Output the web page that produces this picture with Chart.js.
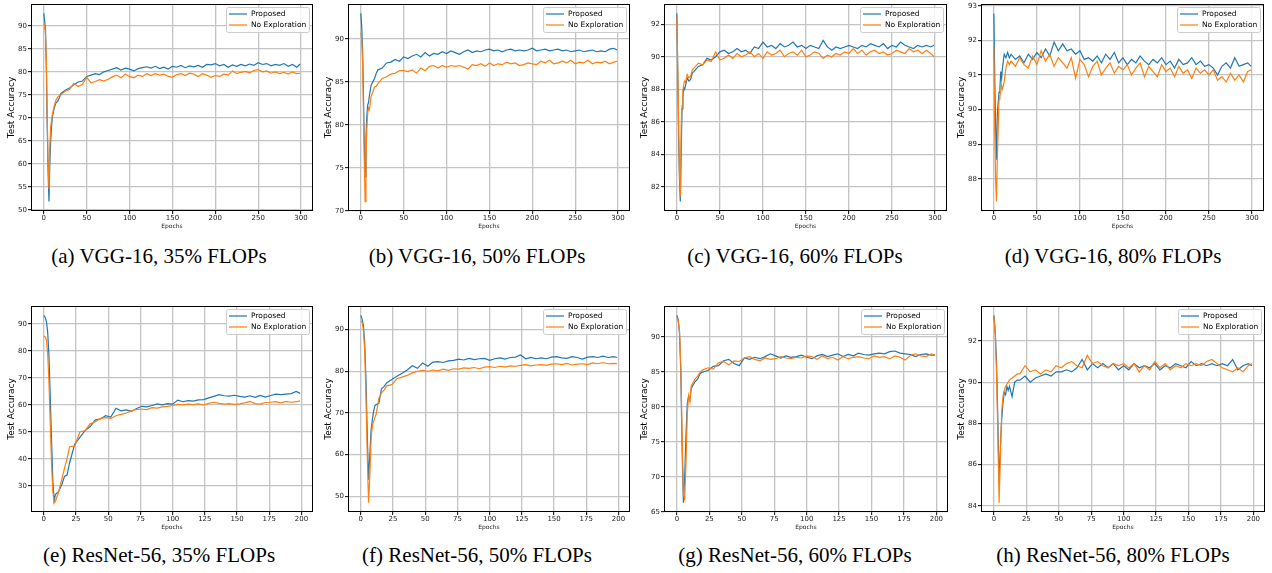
<!DOCTYPE html>
<html>
<head>
<meta charset="utf-8">
<script src="https://cdn.jsdelivr.net/npm/chart.js@4.4.0/dist/chart.umd.min.js"></script>
<style>
  body { margin: 0; background: #fff; width: 1272px; height: 573px; position: relative; overflow: hidden; }
  canvas { position: absolute; }
  .cap { position: absolute; width: 318px; text-align: center; font-family: "Liberation Serif", "Times New Roman", serif;
         font-size: 21px; line-height: 24px; color: #000; white-space: nowrap; }
</style>
</head>
<body>
<script>
// ---- data ----
const seriesNames = ['Proposed', 'No Exploration'];
const captions = [
  '(a) VGG-16, 35% FLOPs', '(b) VGG-16, 50% FLOPs', '(c) VGG-16, 60% FLOPs', '(d) VGG-16, 80% FLOPs',
  '(e) ResNet-56, 35% FLOPs', '(f) ResNet-56, 50% FLOPs', '(g) ResNet-56, 60% FLOPs', '(h) ResNet-56, 80% FLOPs'
];

const epochsTop = [0,1,2,3,4,5,6,7,8,9,10,12,14,16,18,20,25,30,35,40,45,50,55,60,65,70,75,80,85,90,95,100,105,110,115,120,
  125,130,135,140,145,150,155,160,165,170,175,180,185,190,195,200,205,210,215,220,225,230,235,240,245,250,255,260,265,270,
  275,280,285,290,295,299];
const epochsBottom = [0,1,2,3,4,5,6,7,8,9,10,11,12,14,16,18,20,24,28,32,36,40,44,48,52,56,60,64,68,72,76,80,84,88,92,96,
  100,104,108,112,116,120,124,128,132,136,140,144,148,152,156,160,164,168,172,176,180,184,188,192,196,199];

const xTicksTop = [0, 50, 100, 150, 200, 250, 300];
const xTicksBottom = [0, 25, 50, 75, 100, 125, 150, 175, 200];
const yTicksA = [50, 55, 60, 65, 70, 75, 80, 85, 90];
const yTicksB = [70, 75, 80, 85, 90];
const yTicksC = [82, 84, 86, 88, 90, 92];
const yTicksD = [88, 89, 90, 91, 92, 93];
const yTicksE = [30, 40, 50, 60, 70, 80, 90];
const yTicksF = [50, 60, 70, 80, 90];
const yTicksG = [65, 70, 75, 80, 85, 90];
const yTicksH = [84, 86, 88, 90, 92];

const vgg35Proposed = [92.7,91.0,89.0,80.0,68.0,58.0,51.8,60.0,65.0,68.0,70.2,72.0,73.2,73.6,74.3,
  75.3,76.0,76.5,77.2,77.8,78.0,79.0,79.3,79.6,79.4,80.0,80.3,80.6,80.9,80.4,80.8,80.6,80.2,80.7,80.9,81.1,80.8,81.2,80.7,
  81.0,80.6,81.2,81.0,81.4,80.9,81.3,81.1,81.4,81.0,81.6,81.5,81.8,81.3,81.6,81.0,81.5,81.2,81.6,81.3,81.7,81.4,82.0,81.6,
  81.8,81.3,81.6,81.4,81.8,81.2,81.6,81.0,81.7];
const vgg35NoExp = [90.5,90.0,88.0,82.0,70.0,60.0,54.6,64.0,68.0,69.5,70.8,72.5,73.8,74.5,74.8,
  75.0,75.8,76.2,77.5,76.8,77.3,78.8,77.6,77.9,78.3,78.0,78.4,78.9,79.3,78.7,79.5,79.0,78.7,79.3,79.0,79.6,79.2,79.6,79.3,
  79.5,79.0,78.8,79.4,79.6,79.2,79.7,79.5,79.0,79.6,79.3,78.8,79.2,79.0,79.5,79.3,80.2,79.6,79.9,80.1,79.8,80.3,80.5,80.0,
  80.2,79.7,80.0,79.6,79.9,79.5,80.0,79.6,79.7];

const vgg50Proposed = [92.95,91.5,89.0,84.0,78.0,74.0,78.5,81.0,82.3,82.6,83.4,84.6,85.0,85.4,86.0,
  86.4,86.6,87.2,87.3,87.6,87.4,87.9,87.7,88.0,88.2,87.9,88.4,88.0,88.3,88.2,88.5,88.3,88.6,88.4,88.2,88.5,88.7,88.4,88.6,
  88.5,88.7,88.8,88.6,88.7,88.5,88.7,88.8,88.6,88.7,88.6,88.7,88.9,88.6,88.7,88.8,88.6,88.7,88.8,88.6,88.7,88.5,88.6,88.7,
  88.5,88.6,88.7,88.5,88.6,88.5,88.8,88.9,88.7];
const vgg50NoExp = [90.7,90.0,87.5,82.0,76.0,71.1,76.0,79.5,81.3,82.0,81.8,83.3,83.8,84.4,84.5,
  84.8,85.4,85.6,85.9,86.0,86.3,86.3,86.2,86.4,86.0,86.6,86.3,86.8,86.9,86.6,86.9,86.7,86.9,86.8,86.9,86.7,86.5,87.0,86.9,
  87.1,86.8,87.2,86.9,87.1,87.0,87.3,87.1,87.2,86.9,87.0,87.2,87.1,87.0,87.4,87.2,87.5,87.1,87.2,87.4,87.2,87.5,87.1,87.3,
  87.2,87.5,87.1,87.3,87.2,87.4,87.1,87.3,87.4];

const vgg60Proposed = [92.66,89.0,85.0,82.5,81.1,84.0,86.8,87.5,88.1,88.0,88.2,88.7,88.5,88.6,89.0,
  89.1,89.4,89.5,89.9,89.8,90.0,90.3,90.4,90.2,90.3,90.5,90.3,90.4,90.2,90.6,90.5,90.9,90.6,90.7,90.5,90.8,90.6,90.7,90.9,
  90.6,90.7,90.5,90.7,90.6,90.5,91.0,90.6,90.4,90.6,90.5,90.6,90.7,90.6,90.5,90.7,90.6,90.8,90.7,90.6,90.8,90.5,90.7,90.6,
  90.9,90.7,90.6,90.5,90.7,90.6,90.7,90.6,90.7];
const vgg60NoExp = [92.4,89.5,86.0,83.0,81.4,85.7,87.0,87.9,88.3,88.5,88.4,88.9,88.7,88.8,89.2,
  89.3,89.6,89.5,89.8,89.7,90.3,89.8,89.9,90.1,89.9,90.2,90.0,90.1,90.3,90.0,90.2,89.9,90.3,90.1,90.2,90.4,90.0,90.2,90.3,
  90.1,90.4,90.0,90.1,90.3,90.2,89.9,90.1,90.0,90.2,90.1,90.3,90.2,90.5,90.2,90.4,90.1,90.3,90.4,90.2,90.3,90.1,90.2,90.4,
  90.3,90.2,90.5,90.3,90.4,90.2,90.4,90.2,90.0];

const vgg80Proposed = [92.78,91.0,89.5,88.55,89.85,90.2,90.5,90.6,91.1,90.9,91.2,91.6,91.5,91.65,91.5,
  91.6,91.45,91.55,91.35,91.6,91.45,91.65,91.5,91.75,91.55,91.95,91.7,91.9,91.7,91.75,91.6,91.7,91.45,91.5,91.4,91.55,
  91.35,91.6,91.45,91.65,91.35,91.5,91.3,91.45,91.35,91.55,91.4,91.3,91.45,91.35,91.5,91.3,91.4,91.2,91.45,91.3,91.35,
  91.5,91.3,91.4,91.25,91.3,91.2,91.0,91.25,91.35,91.2,91.5,91.25,91.3,91.35,91.25];
const vgg80NoExp = [91.85,89.5,88.0,87.34,88.6,89.4,90.3,90.4,90.5,90.7,90.6,90.8,91.2,91.4,91.3,
  91.4,91.25,91.5,91.3,91.2,91.55,91.3,91.7,91.4,91.6,91.25,91.5,91.35,91.2,91.5,90.9,91.45,91.3,90.95,91.25,91.4,91.0,
  91.2,91.35,91.05,91.25,91.15,91.3,91.0,91.2,91.35,90.95,91.25,91.1,90.95,91.3,91.1,91.2,90.95,91.25,91.05,91.15,90.9,
  91.2,91.05,91.15,91.0,91.15,90.85,90.95,90.8,91.05,90.85,91.0,90.8,91.1,91.15];

const res35Proposed = [93.2,92.5,91.0,87.0,78.0,63.0,47.0,32.0,24.5,26.8,27.3,27.6,28.5,30.5,33.5,34.0,
  38.5,45.5,48.0,50.5,52.0,54.5,54.8,56.0,55.5,58.8,57.8,58.2,57.6,58.7,59.5,59.3,59.8,60.4,60.0,60.5,60.3,61.8,61.2,61.6,
  61.4,61.9,62.0,62.6,63.2,63.8,63.4,63.3,63.6,63.2,62.9,63.4,62.8,63.5,62.9,63.5,64.0,63.8,64.0,64.2,65.0,64.3];
const res35NoExp = [85.5,85.3,84.0,79.0,68.0,53.0,38.0,28.0,23.8,24.2,25.8,27.0,28.8,32.5,36.5,40.0,
  44.5,44.8,50.0,50.5,53.0,53.8,55.0,55.3,55.0,56.0,56.5,57.0,57.8,58.3,58.5,58.3,59.0,58.8,59.3,59.5,59.8,60.2,60.0,60.3,
  60.1,60.4,60.0,60.6,61.0,60.6,60.3,60.5,60.2,60.4,60.8,61.3,60.5,60.3,60.9,61.0,61.2,60.8,61.3,61.0,61.2,61.5];

const res50Proposed = [93.4,92.5,91.0,87.0,78.0,65.0,54.0,60.0,66.0,68.5,70.5,71.8,72.0,72.3,75.8,76.3,
  77.2,78.0,78.8,79.5,80.3,81.3,80.7,82.0,81.2,82.2,82.3,82.1,82.5,82.6,82.9,82.7,83.1,82.8,83.0,83.1,82.6,83.0,83.2,82.9,
  83.3,83.4,83.9,83.0,83.3,83.0,83.2,83.0,83.4,83.5,83.2,83.1,83.5,83.3,82.9,83.4,83.5,83.3,83.6,83.3,83.5,83.3];
const res50NoExp = [92.0,91.8,90.0,85.0,74.0,60.0,48.5,55.0,64.0,67.0,68.0,69.0,69.8,73.5,74.8,75.5,
  76.5,76.8,78.2,78.6,79.0,79.6,80.0,80.2,80.0,80.3,80.1,80.5,80.2,80.6,80.5,80.8,80.7,80.9,80.6,81.0,81.1,80.9,81.2,81.0,
  81.3,81.2,81.4,81.6,81.3,81.5,81.6,81.4,81.7,81.8,81.6,81.9,81.5,81.7,81.8,81.6,82.0,81.8,82.1,81.8,81.9,81.8];

const res60Proposed = [93.1,92.5,90.5,85.0,74.0,66.3,70.0,76.0,80.5,81.5,81.0,82.6,83.0,83.6,84.0,84.8,
  85.0,85.2,85.8,85.9,86.6,86.8,86.2,85.9,87.0,86.8,87.1,86.9,87.2,87.6,87.3,87.0,87.3,87.1,87.2,87.4,87.1,86.9,87.3,87.5,
  87.2,87.4,87.6,87.2,87.5,87.3,87.7,87.5,87.4,87.6,87.7,87.6,87.9,88.0,87.7,87.6,87.5,87.2,87.5,87.6,87.4,87.4];
const res60NoExp = [92.8,92.3,91.0,86.0,76.0,67.5,66.8,72.0,79.0,81.6,80.7,83.0,83.3,84.0,84.4,85.0,
  85.3,85.6,85.4,86.3,86.5,86.0,86.6,86.5,87.0,87.2,86.8,86.6,87.0,86.8,86.9,87.2,87.0,86.9,87.1,87.0,87.3,87.2,86.8,87.3,
  86.9,87.1,86.7,87.2,86.9,87.1,87.2,87.0,86.9,87.3,87.1,87.2,86.9,87.3,87.1,86.7,87.4,87.6,87.3,87.2,87.6,87.4];

const res80Proposed = [93.24,92.5,91.0,88.3,85.1,86.8,88.2,89.0,89.5,89.4,89.8,89.6,89.8,89.3,90.0,90.1,
  90.1,90.3,90.0,90.2,90.3,90.4,90.3,90.5,90.5,90.6,90.5,90.7,91.1,90.6,90.9,90.7,90.9,90.7,90.9,90.6,90.8,90.6,90.9,90.7,
  90.8,90.7,90.9,90.6,90.8,90.7,90.9,90.8,90.7,91.0,90.8,90.9,90.8,90.9,90.8,90.9,90.8,91.1,90.6,90.8,90.9,90.8];
const res80NoExp = [93.2,92.3,90.5,87.5,84.16,86.5,88.6,89.3,89.6,89.8,89.9,90.0,90.1,90.2,90.3,90.4,
  90.4,90.8,90.5,90.6,90.4,90.6,90.5,90.8,90.7,90.9,91.0,90.8,90.7,91.3,90.9,91.0,90.8,90.7,90.9,90.8,90.9,90.7,90.9,90.5,
  90.8,90.6,91.0,90.7,90.9,90.6,90.8,90.7,90.9,90.8,90.9,90.8,91.0,91.1,90.9,90.7,90.6,90.5,90.7,90.5,90.8,90.9];

// ---- layout of the 2x4 grid ----
const panels = [
  { epochs: epochsTop, a: vgg35Proposed, b: vgg35NoExp, xt: xTicksTop, yt: yTicksA, left: 0,   top: 0, yW: 31, padR: 5 },
  { epochs: epochsTop, a: vgg50Proposed, b: vgg50NoExp, xt: xTicksTop, yt: yTicksB, left: 318, top: 0, yW: 30, padR: 6 },
  { epochs: epochsTop, a: vgg60Proposed, b: vgg60NoExp, xt: xTicksTop, yt: yTicksC, left: 636, top: 0, yW: 28, padR: 7 },
  { epochs: epochsTop, a: vgg80Proposed, b: vgg80NoExp, xt: xTicksTop, yt: yTicksD, left: 954, top: 0, yW: 27, padR: 8 },
  { epochs: epochsBottom, a: res35Proposed, b: res35NoExp, xt: xTicksBottom, yt: yTicksE, left: 0,   top: 300, yW: 31, padR: 5 },
  { epochs: epochsBottom, a: res50Proposed, b: res50NoExp, xt: xTicksBottom, yt: yTicksF, left: 318, top: 300, yW: 30, padR: 6 },
  { epochs: epochsBottom, a: res60Proposed, b: res60NoExp, xt: xTicksBottom, yt: yTicksG, left: 636, top: 300, yW: 28, padR: 6 },
  { epochs: epochsBottom, a: res80Proposed, b: res80NoExp, xt: xTicksBottom, yt: yTicksH, left: 954, top: 300, yW: 27, padR: 7 }
];

const BLUE = '#1f77b4', ORANGE = '#ff7f0e';

function pts(xs, ys) {
  return xs.map((x, i) => ({ x: x, y: ys[i] }));
}

// matplotlib-like 5% margins
function pad5(lo, hi) {
  const m = (hi - lo) * 0.05;
  return [lo - m, hi + m];
}

// black frame + legend box inside the plot, like matplotlib
const frameLegend = {
  id: 'frameLegend',
  afterDraw(chart) {
    const ctx = chart.ctx, a = chart.chartArea;
    ctx.save();
    ctx.strokeStyle = '#000';
    ctx.lineWidth = 1;
    ctx.strokeRect(a.left + 0.5, a.top + 0.5, a.right - a.left - 1, a.bottom - a.top - 1);

    const w = 83, h = 25, x = a.right - 4 - w, y = a.top + 3;
    ctx.beginPath();
    ctx.roundRect(x + 0.5, y + 0.5, w, h, 2);
    ctx.fillStyle = 'rgba(255,255,255,0.85)';
    ctx.fill();
    ctx.strokeStyle = '#cccccc';
    ctx.stroke();

    ctx.font = '7.5px "DejaVu Sans"';
    ctx.textBaseline = 'middle';
    chart.data.datasets.forEach((ds, i) => {
      const ly = y + 7 + i * 11;
      ctx.beginPath();
      ctx.moveTo(x + 3, ly);
      ctx.lineTo(x + 21, ly);
      ctx.strokeStyle = ds.borderColor;
      ctx.lineWidth = 1.2;
      ctx.stroke();
      ctx.fillStyle = '#000';
      ctx.fillText(ds.label, x + 25, ly);
    });
    ctx.restore();
  }
};

panels.forEach((p, k) => {
  const isTop = p.top === 0;
  const cv = document.createElement('canvas');
  cv.width = 318;
  cv.height = isTop ? 232 : 233;
  cv.style.left = p.left + 'px';
  cv.style.top = p.top + 'px';
  document.body.appendChild(cv);

  const cap = document.createElement('div');
  cap.className = 'cap';
  cap.textContent = captions[k];
  cap.style.left = p.left + 'px';
  cap.style.top = (isTop ? 244 : 543) + 'px';
  document.body.appendChild(cap);

  const xr = pad5(p.epochs[0], p.epochs[p.epochs.length - 1]);
  const yr = pad5(Math.min(...p.a, ...p.b), Math.max(...p.a, ...p.b));

  const tickFont = { family: 'DejaVu Sans', size: 7 };
  const grid = { color: '#c4c4c4', lineWidth: 1.3, drawTicks: true, tickLength: 3, tickColor: '#000', tickWidth: 1 };

  new Chart(cv, {
    type: 'line',
    data: {
      datasets: [
        { label: seriesNames[0], data: pts(p.epochs, p.a), borderColor: BLUE, borderWidth: 1.2,
          pointRadius: 0, fill: false, tension: 0, order: 1 },
        { label: seriesNames[1], data: pts(p.epochs, p.b), borderColor: ORANGE, borderWidth: 1.2,
          pointRadius: 0, fill: false, tension: 0, order: 0 }
      ]
    },
    options: {
      responsive: false,
      animation: false,
      devicePixelRatio: 1,
      layout: { padding: { top: isTop ? 4 : 6, right: p.padR, left: 0, bottom: 0 } },
      plugins: { legend: { display: false }, tooltip: { enabled: false } },
      scales: {
        x: {
          type: 'linear', min: xr[0], max: xr[1],
          afterBuildTicks: s => { s.ticks = p.xt.map(v => ({ value: v })); },
          afterFit: s => { s.height = 21; s.paddingLeft = 0; s.paddingRight = 0; },
          grid: grid,
          border: { display: false },
          ticks: { font: tickFont, color: '#222', maxRotation: 0, autoSkip: false, padding: 0 },
          title: { display: true, text: 'Epochs', font: { family: 'DejaVu Sans', size: 6 }, color: '#222',
                   padding: { top: 0, bottom: 2.4 } }
        },
        y: {
          type: 'linear', min: yr[0], max: yr[1],
          afterBuildTicks: s => { s.ticks = p.yt.map(v => ({ value: v })); },
          afterFit: s => { s.width = p.yW; s.paddingTop = 0; s.paddingBottom = 0; },
          grid: grid,
          border: { display: false },
          ticks: { font: tickFont, color: '#222', padding: 1, autoSkip: false },
          title: { display: true, text: 'Test Accuracy', font: { family: 'DejaVu Sans', size: 9 }, color: '#000',
                   padding: { top: p.yW - 24.4, bottom: 0 } }
        }
      }
    },
    plugins: [frameLegend]
  });
});
</script>
</body>
</html>
